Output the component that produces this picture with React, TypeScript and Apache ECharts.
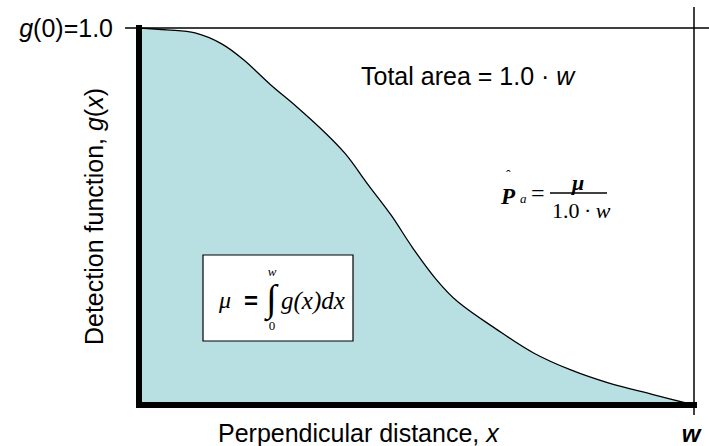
import React, { useEffect, useRef } from "react";
import * as echarts from "echarts";

// Perpendicular distance as a fraction of the truncation width w
const distance = [0, 0.05, 0.101, 0.149, 0.189, 0.236, 0.285, 0.332, 0.372, 0.413, 0.454, 0.494, 0.535, 0.575, 0.643, 0.711, 0.778, 0.847, 0.928, 1.0];
// Detection probability g(x)
const detection = [1.0, 0.995, 0.987, 0.958, 0.915, 0.851, 0.79, 0.727, 0.666, 0.584, 0.504, 0.415, 0.334, 0.273, 0.202, 0.138, 0.093, 0.058, 0.027, 0.0];
// Value axis ticks (only g(0) is labelled)
const yTicks = [0, 1];

const SANS = "'Liberation Sans', Arial, sans-serif";
const SERIF = "'Liberation Serif', 'Times New Roman', serif";
const FILL = "#b8e0e3";
const FS = 25;

export default function App() {
  const ref = useRef<HTMLDivElement>(null);

  useEffect(() => {
    document.body.style.margin = "0";
    const chart = echarts.init(ref.current!, null, { renderer: "svg" });

    chart.setOption({
      animation: false,
      backgroundColor: "#ffffff",
      grid: { left: 139, right: 15, top: 28, bottom: 41, outerBoundsMode: "none", containLabel: false },
      xAxis: {
        type: "value",
        min: 0,
        max: 1,
        z: 5,
        axisLine: { show: true, onZero: false, lineStyle: { color: "#000", width: 6, cap: "square" } },
        axisTick: { show: false },
        axisLabel: { show: false },
        splitLine: { show: false },
      },
      yAxis: {
        type: "value",
        min: yTicks[0],
        max: yTicks[yTicks.length - 1],
        interval: 1,
        z: 5,
        name: "{t|Detection function, }{i|g}{t|(}{i|x}{t|)}",
        nameLocation: "middle",
        nameRotate: 90,
        nameGap: 33,
        nameMoveOverlap: false,
        nameTextStyle: {
          rich: {
            t: { fontFamily: SANS, fontSize: FS, color: "#000" },
            i: { fontFamily: SANS, fontSize: FS, color: "#000", fontStyle: "italic" },
          },
        },
        axisLine: { show: true, onZero: false, lineStyle: { color: "#000", width: 6, cap: "square" } },
        axisTick: { show: false },
        axisLabel: {
          show: true,
          margin: 26,
          formatter: (v: number) => (v === 1 ? "{i|g}{t|(0)=1.0}" : ""),
          rich: {
            t: { fontFamily: SANS, fontSize: FS, color: "#000" },
            i: { fontFamily: SANS, fontSize: FS, color: "#000", fontStyle: "italic" },
          },
        },
        splitLine: { show: false },
      },
      series: [
        {
          type: "line",
          data: distance.map((d, i) => [d, detection[i]]),
          smooth: 0.35,
          showSymbol: false,
          z: 2,
          lineStyle: { color: "#000", width: 1.3 },
          areaStyle: { color: FILL, opacity: 1 },
        },
      ],
    });

    const [x0, yOne] = chart.convertToPixel({ gridIndex: 0 }, [0, 1]) as number[];
    const [xW, yZero] = chart.convertToPixel({ gridIndex: 0 }, [1, 0]) as number[];

    const serif = (text: string, x: number, y: number, size: number, extra: any = {}) => ({
      type: "text",
      x,
      y,
      z: 20,
      style: {
        text,
        fontFamily: SERIF,
        fontSize: size,
        fill: "#000",
        verticalAlign: "middle",
        ...extra,
      },
    });

    chart.setOption({
      graphic: [
        // g = 1 reference line, extending left as the tick for g(0)
        {
          type: "line",
          z: 10,
          shape: { x1: x0 - 14, y1: yOne, x2: 709, y2: yOne },
          style: { stroke: "#000", lineWidth: 1.5 },
        },
        // truncation distance w
        {
          type: "line",
          z: 10,
          shape: { x1: xW, y1: 7, x2: xW, y2: yZero + 10 },
          style: { stroke: "#000", lineWidth: 1.5 },
        },
        {
          type: "text",
          x: 218,
          y: 433,
          style: {
            text: "{t|Perpendicular distance, }{i|x}",
            verticalAlign: "middle",
            rich: {
              t: { fontFamily: SANS, fontSize: FS, fill: "#000" },
              i: { fontFamily: SANS, fontSize: FS, fill: "#000", fontStyle: "italic" },
            },
          },
        },
        {
          type: "text",
          x: xW - 3,
          y: 433,
          style: {
            text: "w",
            fontFamily: SANS,
            fontSize: 24,
            fontStyle: "italic",
            fontWeight: "bold",
            fill: "#000",
            align: "center",
            verticalAlign: "middle",
          },
        },
        {
          type: "text",
          x: 361,
          y: 76,
          style: {
            text: "{t|Total area = 1.0 · }{i|w}",
            verticalAlign: "middle",
            rich: {
              t: { fontFamily: SANS, fontSize: FS, fill: "#000" },
              i: { fontFamily: SANS, fontSize: FS, fill: "#000", fontStyle: "italic" },
            },
          },
        },
        // P-hat formula
        serif("P", 501, 196, 23, { fontStyle: "italic", fontWeight: "bold" }),
        serif("ˆ", 506, 175, 14),
        serif("a", 520, 198, 13, { fontStyle: "italic" }),
        serif("=", 531, 193, 24),
        {
          type: "line",
          z: 20,
          shape: { x1: 550, y1: 193, x2: 607, y2: 193 },
          style: { stroke: "#000", lineWidth: 1.3 },
        },
        serif("μ", 572, 182, 22, { fontStyle: "italic", fontWeight: "bold" }),
        {
          type: "text",
          x: 552,
          y: 210,
          z: 20,
          style: {
            text: "{t|1.0\u2009·\u2009}{i|w}",
            verticalAlign: "middle",
            rich: {
              t: { fontFamily: SERIF, fontSize: 22, fill: "#000" },
              i: { fontFamily: SERIF, fontSize: 22, fill: "#000", fontStyle: "italic" },
            },
          },
        },
        // integral box
        {
          type: "rect",
          z: 15,
          shape: { x: 203, y: 255, width: 150, height: 86 },
          style: { fill: "#ffffff", stroke: "#000", lineWidth: 1.2 },
        },
        serif("μ", 219, 300, 24, { fontStyle: "italic" }),
        {
          type: "text",
          x: 244,
          y: 300,
          z: 20,
          style: { text: "=", fontFamily: SANS, fontSize: 24, fontWeight: "bold", fill: "#000", verticalAlign: "middle" },
        },
        serif("∫", 266, 298, 38),
        serif("w", 272, 271, 13, { fontStyle: "italic", align: "center" }),
        serif("0", 272, 325, 13, { align: "center" }),
        serif("g(x)dx", 281, 300, 25, { fontStyle: "italic" }),
      ],
    });

    return () => chart.dispose();
  }, []);

  return <div ref={ref} style={{ width: 709, height: 446 }} />;
}
